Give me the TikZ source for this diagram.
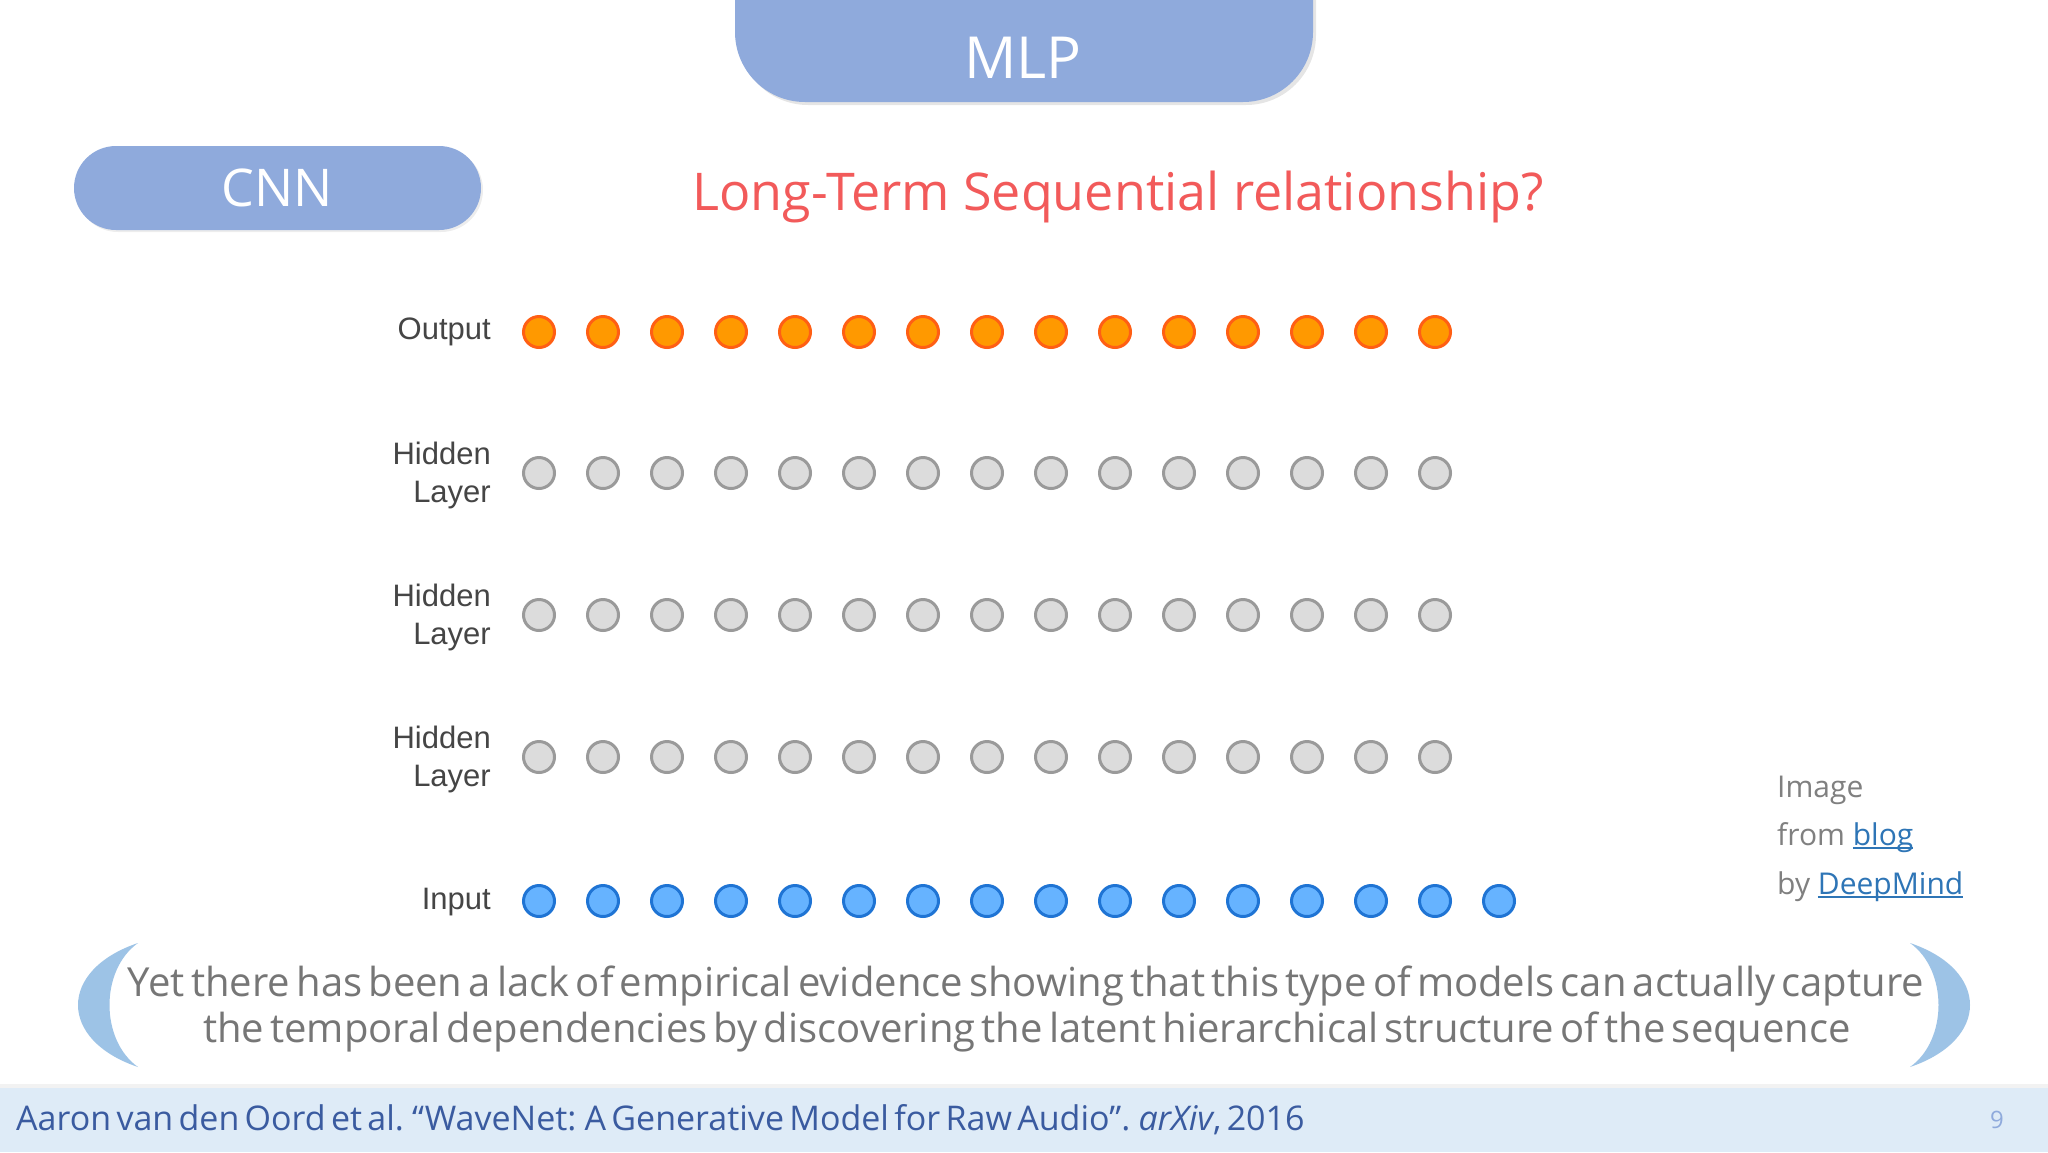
\documentclass[tikz,border=0pt]{standalone}
\usepackage{fontspec}
\setmainfont{Open Sans}
\newfontfamily\tight[WordSpace=0.6]{Open Sans}
\newfontfamily\helv{Liberation Sans}
\definecolor{boxblue}{HTML}{8FAADC}
\definecolor{titlered}{HTML}{F25A5A}
\definecolor{quotegray}{HTML}{767676}
\definecolor{crescentblue}{HTML}{9DC3E6}
\definecolor{footbg}{HTML}{DEEBF7}
\definecolor{foottext}{HTML}{3A5BA0}
\definecolor{linkblue}{HTML}{2E75B6}
\definecolor{credgray}{HTML}{808080}
\definecolor{labgray}{HTML}{454545}
\definecolor{orangeF}{HTML}{FF9900}
\definecolor{orangeD}{HTML}{FF5F14}
\definecolor{grayF}{HTML}{DCDCDC}
\definecolor{grayD}{HTML}{9A9A9A}
\definecolor{blueF}{HTML}{66B3FF}
\definecolor{blueD}{HTML}{1F74D4}
\newcommand\lnk[1]{\textcolor{linkblue}{\setbox0\hbox{#1}\rlap{\rule[-4pt]{\wd0}{2.2pt}}\box0}}
\tikzset{
  unit/.style={circle, minimum size=31pt, inner sep=0pt, line width=3pt},
  onode/.style={unit, draw=orangeD, fill=orangeF},
  hnode/.style={unit, draw=grayD, fill=grayF},
  inode/.style={unit, draw=blueD, fill=blueF},
  lab/.style={anchor=east, align=right, inner sep=0pt, text=labgray, font=\helv\fontsize{31}{38}\selectfont},
  pill/.style={fill=boxblue, text=white, inner sep=0pt},
  cred/.style={anchor=base west, inner sep=0pt, text=credgray, font=\fontsize{30}{36}\selectfont},
  quote/.style={anchor=base, inner sep=0pt, text=quotegray, font=\tight\fontsize{40}{47}\selectfont},
}
\begin{document}
\begin{tikzpicture}[x=1pt,y=-1pt]
\useasboundingbox (0,0) rectangle (2048,1152);
\fill[white] (0,0) rectangle (2048,1152);
% MLP box
\fill[black, opacity=0.10, rounded corners=70pt] (738,-100) rectangle (1316,105);
\fill[boxblue, rounded corners=70pt] (735,-100) rectangle (1313,102);
\node[text=white, font=\fontsize{58}{66}\selectfont, inner sep=0pt] (mlp) at (1023,58) {MLP};
% CNN pill
\fill[black, opacity=0.07, rounded corners=42pt] (76,148) rectangle (483,232);
\node[pill, rounded corners=42pt, minimum width=407pt, minimum height=84pt,
      font=\fontsize{52}{60}\selectfont] (cnn) at (277.5,188) {CNN};
% title
\node[text=titlered, font=\fontsize{52}{60}\selectfont, inner sep=0pt] (title) at (1118,197) {Long-Term Sequential relationship?};
% labels
\node[lab] (lout) at (491,332) {Output};
\node[lab] (lh1) at (491,475) {Hidden\\Layer};
\node[lab] (lh2) at (491,617) {Hidden\\Layer};
\node[lab] (lh3) at (491,759) {Hidden\\Layer};
\node[lab] (lin) at (491,902) {Input};
% units
\foreach \i in {0,...,14}{
  \node[onode] (o\i) at ({539+64*\i},332) {};
  \node[hnode] (a\i) at ({539+64*\i},473) {};
  \node[hnode] (b\i) at ({539+64*\i},615) {};
  \node[hnode] (c\i) at ({539+64*\i},757) {};
}
\foreach \i in {0,...,15}{
  \node[inode] (x\i) at ({539+64*\i},901) {};
}
% credit
\node[cred] (c1) at (1777,797) {Image};
\node[cred] (c2) at (1777,845) {from \lnk{blog}};
\node[cred] (c3) at (1777,894) {by \lnk{DeepMind}};
% crescents
\fill[crescentblue] (138,943) .. controls (58,970) and (58,1040) .. (138,1067)
   .. controls (100,1040) and (100,970) .. (138,943) -- cycle;
\fill[crescentblue] (1910,943) .. controls (1990,970) and (1990,1040) .. (1910,1067)
   .. controls (1948,1040) and (1948,970) .. (1910,943) -- cycle;
% quote
\node[quote] (q1) at (1026,996) {Yet there has been a lack of empirical evidence showing that this type of models can actually capture};
\node[quote] (q2) at (1027,1042) {the temporal dependencies by discovering the latent hierarchical structure of the sequence};
% footer
\fill[black, opacity=0.05] (0,1084) rectangle (2048,1088);
\fill[footbg] (0,1088) rectangle (2048,1152);
\node[anchor=base west, inner sep=0pt, text=foottext, font=\tight\fontsize{34}{40}\selectfont] (foot) at (16,1130)
  {Aaron van den Oord et al. “WaveNet: A Generative Model for Raw Audio”. \textit{arXiv}, 2016};
\node[anchor=base, inner sep=0pt, text=boxblue, font=\fontsize{24}{28}\selectfont] (page) at (1997,1128) {9};
\end{tikzpicture}
\end{document}
